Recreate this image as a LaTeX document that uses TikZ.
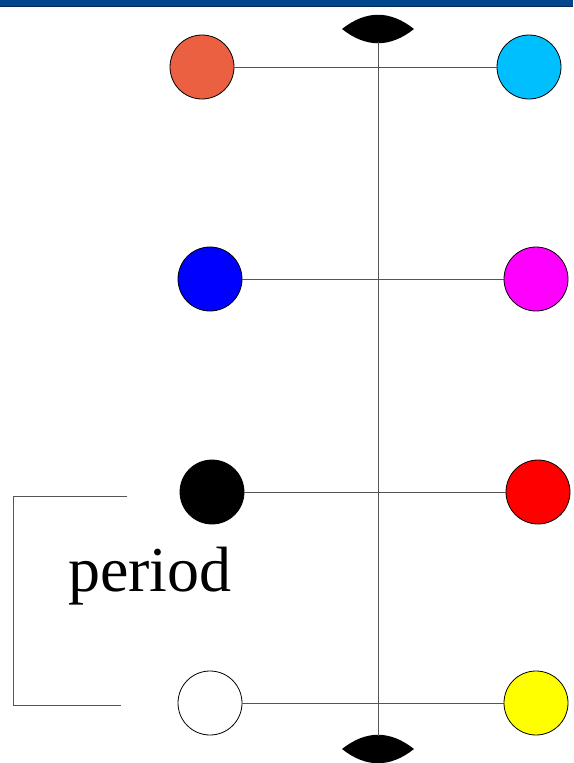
\documentclass[tikz,border=0pt]{standalone}
\usepackage{fontspec}
\setmainfont{Liberation Serif}
\usepackage{xcolor}
\usetikzlibrary{positioning}
\definecolor{barblue}{HTML}{00468A}
\definecolor{bardark}{HTML}{002A55}
\definecolor{orangered}{HTML}{EA6040}
\definecolor{skyblue}{HTML}{00BFFF}
\definecolor{puremagenta}{HTML}{FF00FF}
\definecolor{pureyellow}{HTML}{FFFF00}
\definecolor{purered}{HTML}{FF0000}
\definecolor{pureblue}{HTML}{0000FF}
\definecolor{linegray}{HTML}{555555}

\begin{document}
\begin{tikzpicture}[
  x=1pt,y=-1pt,
  ball/.style={circle,draw=black,line width=0.8pt,minimum size=64pt,inner sep=0pt},
  rod/.style={draw=linegray,line width=0.9pt},
  lens/.style={fill=black}]
\useasboundingbox (0,0) rectangle (573,763);
\fill[barblue] (0,0) rectangle (573,6);
\draw[bardark,line width=1pt] (0,6) -- (573,6);
% lenses at both ends of the axis
\fill[lens] (342,29) .. controls (366,10) and (390,10) .. (414,29) .. controls (390,48) and (366,48) .. (342,29);
\fill[lens] (342,749) .. controls (366,730) and (390,730) .. (414,749) .. controls (390,768) and (366,768) .. (342,749);
\coordinate (axtop) at (378,42);
\coordinate (axbot) at (378,736);
\draw[rod] (axtop) -- (axbot);
% pairs of balls
\node[ball,fill=orangered] (l1) at (202,67) {};
\node[ball,fill=skyblue] (r1) at (529,67) {};
\node[ball,fill=pureblue] (l2) at (210,279) {};
\node[ball,fill=puremagenta] (r2) at (536,279) {};
\node[ball,fill=black] (l3) at (212,492) {};
\node[ball,fill=purered] (r3) at (538,492) {};
\node[ball,fill=white] (l4) at (210,703) {};
\node[ball,fill=pureyellow] (r4) at (536,703) {};
\draw[rod] (l1) -- (r1); \draw[rod] (l2) -- (r2);
\draw[rod] (l3) -- (r3); \draw[rod] (l4) -- (r4);
% period bracket
\coordinate (bt) at (127,496);
\coordinate (bb) at (121,705);
\draw[rod] (bt) -- (13,496) -- (13,705) -- (bb);
\node[font=\fontsize{64}{70}\selectfont,inner sep=0pt] (per) at (150,576) {period};
\end{tikzpicture}
\end{document}
